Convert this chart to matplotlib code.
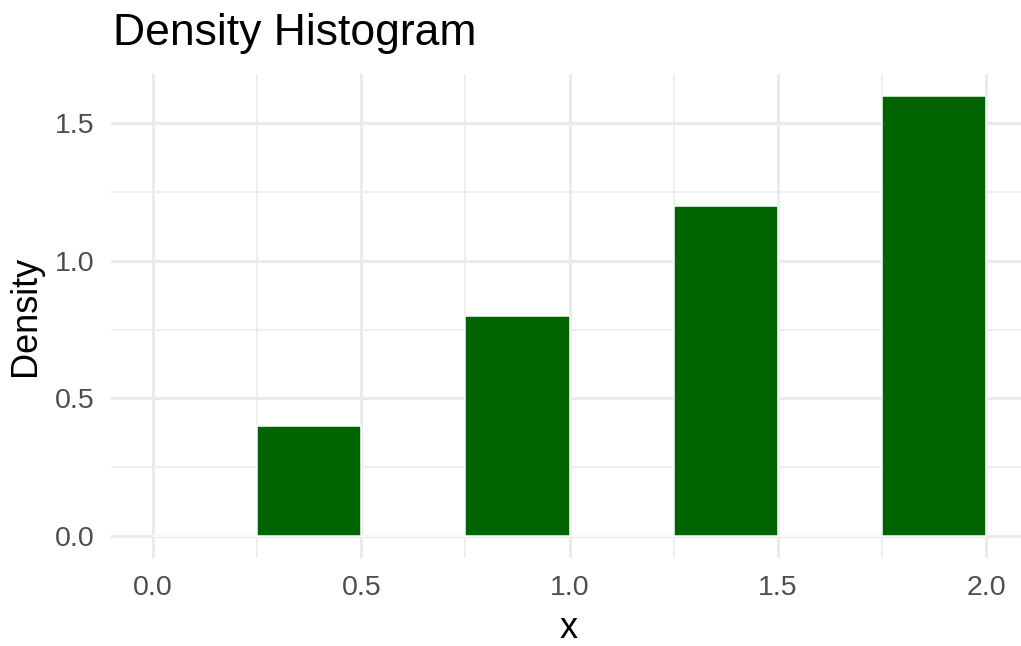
import matplotlib.pyplot as plt
import numpy as np

# bin edges and densities
bin_left = [0.0, 0.25, 0.5, 0.75, 1.0, 1.25, 1.5, 1.75]
bin_width = 0.25
density = [0.0, 0.4, 0.0, 0.8, 0.0, 1.2, 0.0, 1.6]

x_ticks = [0.0, 0.5, 1.0, 1.5, 2.0]
x_labels = ['0.0', '0.5', '1.0', '1.5', '2.0']
y_ticks = [0.0, 0.5, 1.0, 1.5]
y_labels = ['0.0', '0.5', '1.0', '1.5']

plt.rcParams['font.family'] = ['Liberation Sans', 'DejaVu Sans']

W, H = 1021, 646
fig = plt.figure(figsize=(W / 100, H / 100), dpi=100)
# panel in pixels: x 111.4 -> 1027.6, y 73.5 -> 558
ax = fig.add_axes([111.4 / W, (H - 558) / H, 916.2 / W, 484.5 / H])

grid = '#EBEBEB'
for v in [0.25, 0.75, 1.25, 1.75]:
    ax.axvline(v, color=grid, lw=1.1, zorder=0)
for v in x_ticks:
    ax.axvline(v, color=grid, lw=2.2, zorder=0)
for v in [0.25, 0.75, 1.25]:
    ax.axhline(v, color=grid, lw=1.1, zorder=0)
for v in y_ticks:
    ax.axhline(v, color=grid, lw=2.2, zorder=0)

ax.bar(bin_left, density, width=bin_width, align='edge',
       color='#006400', edgecolor='white', linewidth=1.1, zorder=2)

ax.set_xlim(-0.1, 2.1)
ax.set_ylim(-0.08, 1.68)
ax.set_xticks(x_ticks)
ax.set_xticklabels(x_labels)
ax.set_yticks(y_ticks)
ax.set_yticklabels(y_labels)
ax.tick_params(length=0, labelsize=20.5, labelcolor='#4D4D4D')
ax.tick_params(axis='x', pad=12)
ax.tick_params(axis='y', pad=12)
for s in ax.spines.values():
    s.set_visible(False)

fig.text(25 / W, 1 - 316 / H, 'Density', rotation=90, ha='center', va='center',
         fontsize=26, color='black')
fig.text(569 / W, 1 - 629 / H, 'x', ha='center', va='center',
         fontsize=26, color='black')
fig.text(113 / W, 1 - 33 / H, 'Density Histogram', ha='left', va='center',
         fontsize=32, color='black')

fig.savefig('out.png', dpi=100)
